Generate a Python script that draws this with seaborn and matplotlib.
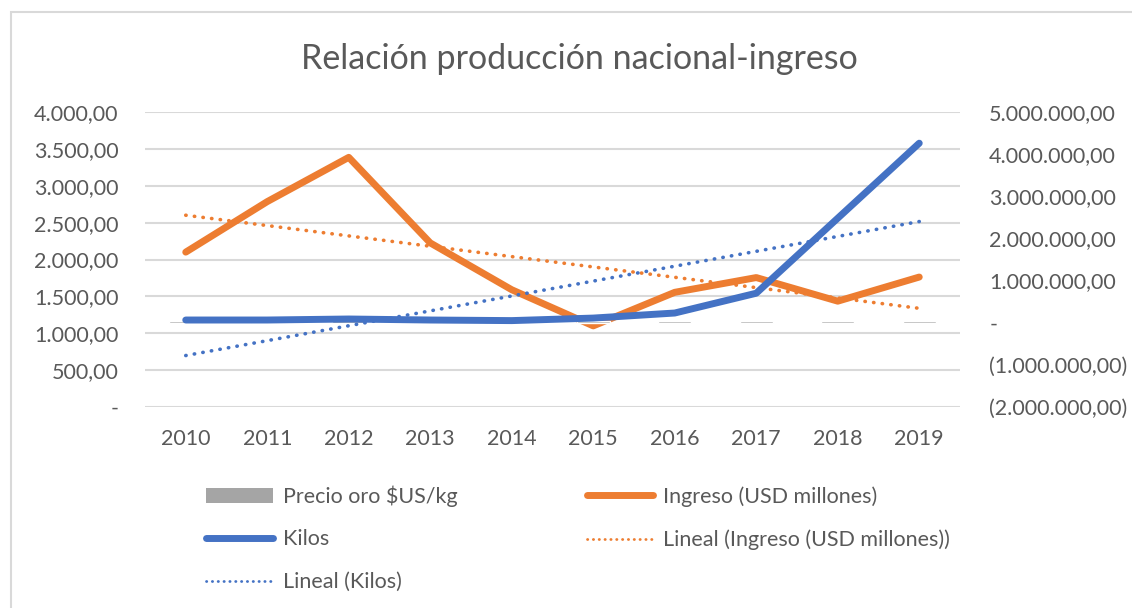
import numpy as np
import pandas as pd
import matplotlib
matplotlib.use("Agg")
import matplotlib.pyplot as plt
import seaborn as sns
from matplotlib.lines import Line2D
from matplotlib.patches import Patch, Rectangle

years = ["2010", "2011", "2012", "2013", "2014", "2015", "2016", "2017", "2018", "2019"]
precio_oro = [39400, 50200, 53700, 45400, 40700, 37500, 40300, 40700, 40800, 44800]
ingreso = [2100, 2785, 3385, 2225, 1590, 1100, 1555, 1755, 1435, 1762]
kilos = [64000, 64000, 88000, 64000, 50000, 110000, 230000, 700000, 2480000, 4260000]

df = pd.DataFrame({"anio": years, "pos": np.arange(len(years)),
                   "precio": precio_oro, "ingreso": ingreso, "kilos": kilos})

# tendencias lineales (como en Excel)
c_ing = np.polyfit(df["pos"], df["ingreso"], 1)
c_kil = np.polyfit(df["pos"], df["kilos"], 1)
df["tend_ing"] = np.polyval(c_ing, df["pos"])
df["tend_kil"] = np.polyval(c_kil, df["pos"])

NARANJA = "#ED7D31"
AZUL = "#4472C4"
GRIS = "#A5A5A5"
TEXTO = "#595959"

sns.set_style("white")
plt.rcParams["font.family"] = ["Lato", "DejaVu Sans"]

fig = plt.figure(figsize=(11.32, 6.08), dpi=100)
ax = fig.add_axes([145 / 1132, 1 - 407 / 608, 815 / 1132, 295 / 608])
ax2 = ax.twinx()

# marco del gráfico (solo se ven los bordes izquierdo y superior)
fig.patches.append(Rectangle((10.5 / 1132, -0.1), 1.2, 1.1 - 12.5 / 608,
                             transform=fig.transFigure, fill=False,
                             edgecolor="#D9D9D9", linewidth=1.5))

# barras (eje secundario)
sns.barplot(data=df, x="anio", y="precio", color=GRIS, width=0.4,
            saturation=1, ax=ax2, zorder=2)

# eje primario: ingreso
sns.lineplot(data=df, x="pos", y="ingreso", color=NARANJA, linewidth=5,
             solid_capstyle="round", ax=ax, zorder=3)
sns.lineplot(data=df, x="pos", y="tend_ing", color=NARANJA, linewidth=2.6,
             linestyle=(0, (0.1, 2.3)), dash_capstyle="round", ax=ax, zorder=3)

# eje secundario: kilos
sns.lineplot(data=df, x="pos", y="kilos", color=AZUL, linewidth=5,
             solid_capstyle="round", ax=ax2, zorder=4)
sns.lineplot(data=df, x="pos", y="tend_kil", color=AZUL, linewidth=2.6,
             linestyle=(0, (0.1, 2.3)), dash_capstyle="round", ax=ax2, zorder=4)

ax.set_xlim(-0.5, 9.5)
ax.set_ylim(0, 4000)
ax2.set_ylim(-2000000, 5000000)


def fmt_num(v):
    if v == 0:
        return "-"
    s = f"{abs(v):,.2f}".replace(",", "X").replace(".", ",").replace("X", ".")
    return f"({s})" if v < 0 else s


lt = np.arange(0, 4001, 500)
ax.set_yticks(lt)
ax.set_yticklabels([fmt_num(v) for v in lt])
rt = np.arange(-2000000, 5000001, 1000000)
ax2.set_yticks(rt)
ax2.set_yticklabels([fmt_num(v) for v in rt])
ax.set_xticks(np.arange(len(years)))
ax.set_xticklabels(years)

for a in (ax, ax2):
    for s in a.spines.values():
        s.set_visible(False)
    a.set_xlabel("")
    a.set_ylabel("")
    a.tick_params(length=0, labelsize=15.5, colors=TEXTO)
ax.tick_params(axis="y", pad=19)
ax2.tick_params(axis="y", pad=21)
ax.tick_params(axis="x", pad=16)
ax.grid(axis="y", color="#D9D9D9", linewidth=1.5)
ax.set_axisbelow(True)
ax.patch.set_visible(False)
ax2.patch.set_visible(False)

fig.text(0.512, 1 - 59 / 608, "Relación producción nacional-ingreso",
         ha="center", va="center", fontsize=24.5, color=TEXTO)

handles = [
    Patch(facecolor=GRIS, edgecolor="none"),
    Line2D([], [], color=AZUL, linewidth=5, solid_capstyle="round"),
    Line2D([], [], color=AZUL, linewidth=2, linestyle=(0, (0.1, 2.0)),
           dash_capstyle="round"),
    Line2D([], [], color=NARANJA, linewidth=5, solid_capstyle="round"),
    Line2D([], [], color=NARANJA, linewidth=2, linestyle=(0, (0.1, 2.0)),
           dash_capstyle="round"),
]
labels = ["Precio oro $US/kg", "Kilos", "Lineal (Kilos)",
          "Ingreso (USD millones)", "Lineal (Ingreso (USD millones))"]
leg = fig.legend(handles, labels, ncol=2, loc="upper left",
                 bbox_to_anchor=(187 / 1132, 1 - 466 / 608), frameon=False,
                 fontsize=15.5, handlelength=3.1, handleheight=0.7,
                 handletextpad=0.45, columnspacing=6.0, labelspacing=1.05)
for t in leg.get_texts():
    t.set_color(TEXTO)

fig.savefig("out.png", dpi=100, facecolor="white")
